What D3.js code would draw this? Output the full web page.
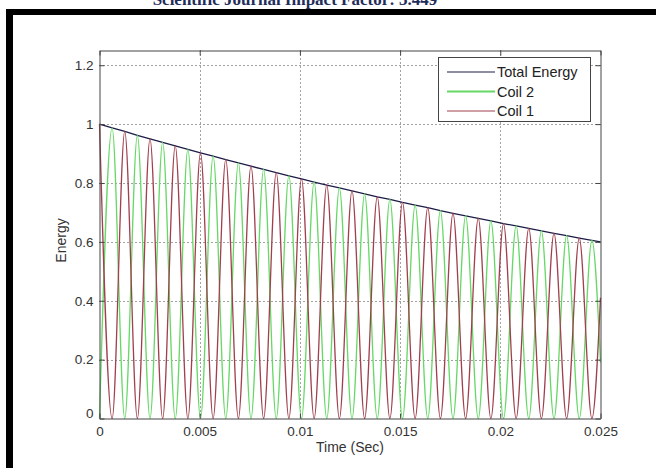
<!DOCTYPE html>
<html>
<head>
<meta charset="utf-8">
<script src="https://cdn.jsdelivr.net/npm/d3@7"></script>
<style>
  body { margin: 0; background: #fff; }
  svg { display: block; font-family: "Liberation Sans", Arial, sans-serif; }
</style>
</head>
<body>
<svg id="chart" width="656" height="468"></svg>
<script>
// half-period sample times (s)
const timeSec = [0, 0.00063, 0.00126, 0.00189, 0.00252, 0.00315, 0.00378, 0.00441, 0.00504, 0.00567,
  0.0063, 0.00693, 0.00756, 0.00819, 0.00882, 0.00945, 0.01008, 0.01071, 0.01134, 0.01197,
  0.0126, 0.01323, 0.01386, 0.01449, 0.01512, 0.01575, 0.01638, 0.01701, 0.01764, 0.01827,
  0.0189, 0.01953, 0.02016, 0.02079, 0.02142, 0.02205, 0.02268, 0.02331, 0.02394, 0.02457, 0.025];

const totalEnergy = [1.000, 0.987, 0.975, 0.962, 0.950, 0.938, 0.926, 0.914, 0.902, 0.891,
  0.879, 0.868, 0.857, 0.846, 0.835, 0.824, 0.814, 0.803, 0.793, 0.783,
  0.773, 0.763, 0.753, 0.744, 0.734, 0.725, 0.716, 0.706, 0.697, 0.688,
  0.680, 0.671, 0.662, 0.654, 0.646, 0.637, 0.629, 0.621, 0.613, 0.605, 0.600];

const coil2 = [0, 0.987, 0, 0.962, 0, 0.938, 0, 0.914, 0, 0.891,
  0, 0.868, 0, 0.846, 0, 0.824, 0, 0.803, 0, 0.783,
  0, 0.763, 0, 0.744, 0, 0.725, 0, 0.706, 0, 0.688,
  0, 0.671, 0, 0.654, 0, 0.637, 0, 0.621, 0, 0.605, 0.19];

const coil1 = [1.000, 0, 0.975, 0, 0.950, 0, 0.926, 0, 0.902, 0,
  0.879, 0, 0.857, 0, 0.835, 0, 0.814, 0, 0.793, 0,
  0.773, 0, 0.753, 0, 0.734, 0, 0.716, 0, 0.697, 0,
  0.680, 0, 0.662, 0, 0.646, 0, 0.629, 0, 0.613, 0, 0.41];

const xTicks = [0, 0.005, 0.01, 0.015, 0.02, 0.025];
const yTicks = [0, 0.2, 0.4, 0.6, 0.8, 1, 1.2];
const seriesNames = ["Total Energy", "Coil 2", "Coil 1"];
const seriesColors = ["#1c1c48", "#66d866", "#a0404e"];

const svg = d3.select("#chart");

// page frame + cut-off header
svg.append("text")
  .attr("x", 295).attr("y", 5)
  .attr("text-anchor", "middle")
  .style("font-family", "'Liberation Serif', 'Times New Roman', serif")
  .style("font-weight", "bold")
  .style("font-size", "17px")
  .attr("fill", "#1f2d5a")
  .text("Scientific Journal Impact Factor: 3.449");
svg.append("rect").attr("x", 6).attr("y", 9).attr("width", 650).attr("height", 6).attr("fill", "#000");
svg.append("rect").attr("x", 6).attr("y", 9).attr("width", 7).attr("height", 459).attr("fill", "#000");

const pLeft = 99.5, pRight = 600.5, pTop = 50.5, pBottom = 418.5;

const x = d3.scaleLinear().domain([0, 0.025]).range([pLeft, pRight]);
const y = d3.scaleLinear().domain([0, 1.25]).range([pBottom, pTop]);

const g = svg.append("g");

// dotted grid
g.selectAll(".vgrid").data(xTicks.slice(1, -1)).join("line")
  .attr("x1", d => Math.round(x(d)) + 0.5).attr("x2", d => Math.round(x(d)) + 0.5)
  .attr("y1", pTop).attr("y2", pBottom)
  .attr("stroke", "#444").attr("stroke-dasharray", "1,3");
g.selectAll(".hgrid").data(yTicks.slice(1)).join("line")
  .attr("y1", d => Math.round(y(d)) + 0.5).attr("y2", d => Math.round(y(d)) + 0.5)
  .attr("x1", pLeft).attr("x2", pRight)
  .attr("stroke", "#444").attr("stroke-dasharray", "1,3");

// lines: coils swing between the envelope and zero (smooth like cos^2)
const data = timeSec.map((t, i) => ({t, total: totalEnergy[i], c2: coil2[i], c1: coil1[i]}));
const keys = ["total", "c2", "c1"];
[0, 1, 2].forEach(k => {
  const key = keys[k];
  g.append("path").datum(data)
    .attr("fill", "none")
    .attr("stroke", seriesColors[k])
    .attr("stroke-width", 1.3)
    .attr("stroke-linejoin", "round")
    .attr("d", d3.line().x(d => x(d.t)).y(d => y(d[key]))
      .curve(k === 0 ? d3.curveLinear : d3.curveMonotoneX));
});

// axes (MATLAB box style, ticks inside)
const fmtX = d => d === 0 ? "0" : String(+d.toFixed(3));
const fmtY = d => String(+d.toFixed(1));

const ax = g.append("g").attr("transform", `translate(0,${pBottom})`)
  .call(d3.axisBottom(x).tickValues(xTicks).tickFormat(fmtX).tickSizeInner(-5).tickSizeOuter(0).tickPadding(8));
const axTop = g.append("g").attr("transform", `translate(0,${pTop})`)
  .call(d3.axisTop(x).tickValues(xTicks).tickFormat("").tickSizeInner(-5).tickSizeOuter(0));
const ay = g.append("g").attr("transform", `translate(${pLeft},0)`)
  .call(d3.axisLeft(y).tickValues(yTicks).tickFormat(fmtY).tickSizeInner(-5).tickSizeOuter(0).tickPadding(6));
const ayR = g.append("g").attr("transform", `translate(${pRight},0)`)
  .call(d3.axisRight(y).tickValues(yTicks).tickFormat("").tickSizeInner(-5).tickSizeOuter(0));

[ax, axTop, ay, ayR].forEach(a => {
  a.select(".domain").attr("stroke", "#444");
  a.selectAll(".tick line").attr("stroke", "#444");
  a.selectAll("text").attr("fill", "#333").style("font-size", "13.5px");
});
ay.selectAll(".tick text").filter(d => d === 0).attr("dy", "-0.05em");

// axis labels
svg.append("text").attr("x", (pLeft + pRight) / 2).attr("y", 452)
  .attr("text-anchor", "middle").attr("fill", "#333").style("font-size", "14px")
  .text("Time (Sec)");
svg.append("text")
  .attr("transform", `translate(66,${(pTop + pBottom) / 2 + 6}) rotate(-90)`)
  .attr("text-anchor", "middle").attr("fill", "#333").style("font-size", "14px")
  .text("Energy");

// legend
const leg = svg.append("g");
leg.append("rect").attr("x", 438.5).attr("y", 57.5).attr("width", 152).attr("height", 64)
  .attr("fill", "#fff").attr("stroke", "#444");
seriesNames.forEach((name, i) => {
  const ly = 72 + i * 19.5;
  leg.append("line").attr("x1", 447).attr("x2", 495).attr("y1", ly).attr("y2", ly)
    .attr("stroke", seriesColors[i]).attr("stroke-width", i === 1 ? 1.8 : 1.1);
  leg.append("text").attr("x", 497).attr("y", ly + 5)
    .attr("fill", "#222").style("font-size", "14.5px").text(name);
});
</script>
</body>
</html>
